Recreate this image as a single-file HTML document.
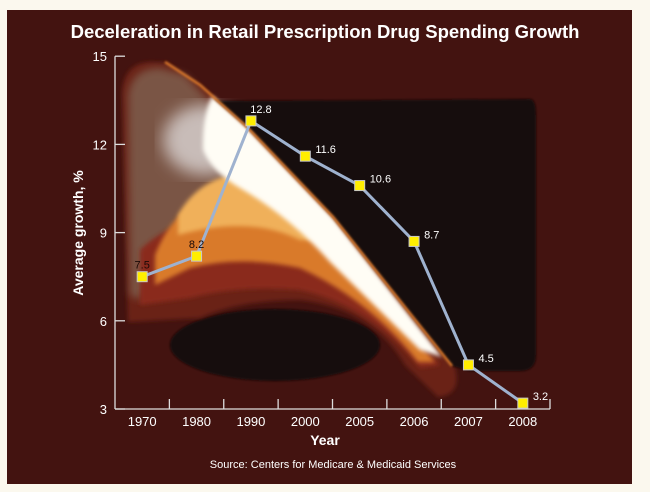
<!DOCTYPE html>
<html><head><meta charset="utf-8"><style>
body{margin:0;background:#fbf8ee;}
svg{display:block;font-family:"Liberation Sans",sans-serif;}
</style></head><body>
<svg width="650" height="492">
<defs>
<filter id="b4"><feGaussianBlur stdDeviation="4"/></filter>
<filter id="b8"><feGaussianBlur stdDeviation="8"/></filter>
<filter id="b2"><feGaussianBlur stdDeviation="2"/></filter>
<filter id="b1"><feGaussianBlur stdDeviation="1"/></filter>
</defs>
<rect x="7" y="10" width="625" height="474" fill="#431310"/>
<g>
<ellipse cx="275" cy="345" rx="105" ry="36" fill="#130707" filter="url(#b1)"/>
<path d="M122,92 Q124,62 152,62 L168,63 L200,85 L247,127 L333,217 L455,368 Q462,395 438,397 L405,365 Q372,308 300,300 Q240,300 200,318 L128,322 Z" fill="#6b2318" filter="url(#b2)"/>
<path d="M128,95 Q132,68 160,68 L185,75 L255,150 L220,200 L175,240 L140,300 L130,295Z" fill="#7a5545" filter="url(#b4)"/>
<ellipse cx="205" cy="140" rx="42" ry="35" fill="#c8bcb8" filter="url(#b8)"/>
<path d="M140,250 Q175,215 250,210 L330,250 L440,365 L420,368 Q370,305 300,290 Q240,285 190,298 L140,305Z" fill="#8a2a1c" filter="url(#b2)"/>
<path d="M155,255 Q180,190 250,185 L310,220 L420,345 L435,362 L418,362 Q370,300 300,268 Q240,255 190,268 L155,285Z" fill="#d97a2c" filter="url(#b2)"/>
<path d="M178,215 Q200,175 250,172 L330,240 L300,240 Q250,215 178,235Z" fill="#f0b05a" filter="url(#b2)"/>
<path d="M212,96 L247,127 L333,217 L442,357 L420,350 L330,262 Q290,217 240,188 Q212,172 203,150 Q202,118 212,96Z" fill="#fffdf5" filter="url(#b2)"/>
<path d="M222,101 L530,99 Q536,99 536,115 L536,355 Q536,371 520,371 L470,371 L452,366 L333,217 L247,127 L214,98 Z" fill="#130707" filter="url(#b1)"/>
<path d="M165,62 L200,85 L247,127 L333,217 L452,366" stroke="#d9782a" stroke-width="2.5" fill="none" filter="url(#b1)"/>
</g>
<text x="325" y="38" fill="#fff" font-size="18.5" font-weight="bold" text-anchor="middle">Deceleration in Retail Prescription Drug Spending Growth</text>
<g id="axes" stroke="#ddd" stroke-width="1.3" fill="none"></g>
<g id="labels" fill="#fff" font-size="13"></g>
<text x="325" y="445" fill="#fff" font-size="14" font-weight="bold" text-anchor="middle">Year</text>
<text transform="translate(83,233) rotate(-90)" fill="#fff" font-size="14" font-weight="bold" text-anchor="middle">Average growth, %</text>
<text x="333" y="468" fill="#fff" font-size="11" text-anchor="middle">Source: Centers for Medicare &amp; Medicaid Services</text>
<g id="series"></g>
</svg>
<script>
const categories=["1970","1980","1990","2000","2005","2006","2007","2008"];
const values=[7.5,8.2,12.8,11.6,10.6,8.7,4.5,3.2];
const yTicks=[3,6,9,12,15];
const NS="http://www.w3.org/2000/svg";
const x0=115,x1=550,step=(x1-x0)/categories.length;
function xs(i){return x0+step*(i+0.5);}
function ys(v){return 409-(v-3)*29.4;}
function mk(t,a,p){const e=document.createElementNS(NS,t);for(const k in a)e.setAttribute(k,a[k]);p.appendChild(e);return e;}
const ax=document.getElementById('axes'),lb=document.getElementById('labels'),se=document.getElementById('series');
let l=mk('line',{x1:x0,y1:ys(15),x2:x0,y2:ys(3)},ax);


l=mk('line',{x1:x0,y1:ys(3),x2:x1,y2:ys(3)},ax);


yTicks.forEach(v=>{
 mk('line',{x1:x0,y1:ys(v),x2:x0+10,y2:ys(v)},ax);
 const t=mk('text',{x:x0-8,y:ys(v)+5,'text-anchor':'end'},lb);t.textContent=v;
 
 
});
categories.forEach((c,i)=>{
 const tx=x0+step*(i+1);
 mk('line',{x1:tx,y1:ys(3),x2:tx,y2:ys(3)-10},ax);
 const t=mk('text',{x:xs(i),y:426,'text-anchor':'middle'},lb);t.textContent=c;
 
 
});
const pl=mk('polyline',{points:values.map((v,i)=>xs(i)+','+ys(v)).join(' '),fill:'none',stroke:'#9fb2cf','stroke-width':3},se);


values.forEach((v,i)=>{
 const r=mk('rect',{x:xs(i)-5,y:ys(v)-5,width:10,height:10,fill:'#ffee00',stroke:'#c9c9c9','stroke-width':1},se);
 
 
 const dark=i<2;
 const t=mk('text',{x:dark?xs(i):xs(i)+10,y:dark?ys(v)-8:(i==2?ys(v)-8:ys(v)-3),'text-anchor':(dark||i==2)?'middle':'start',fill:dark?'#1a0a08':'#fff','font-size':11},se);
 t.textContent=v;
 
 
});
</script>
</body></html>
